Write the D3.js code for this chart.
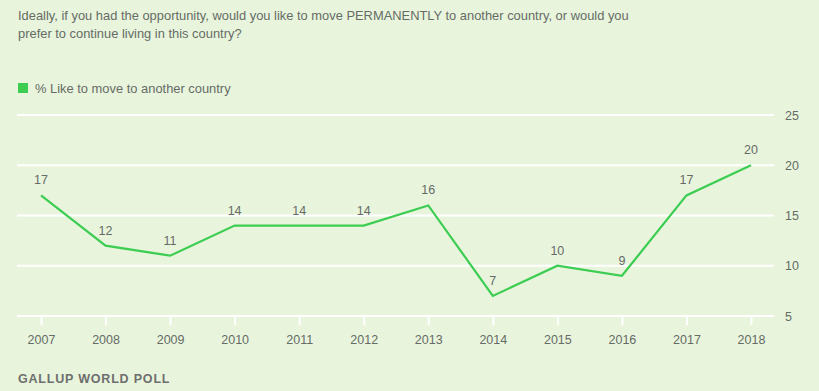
<!DOCTYPE html>
<html><head><meta charset="utf-8">
<script src="https://cdn.jsdelivr.net/npm/d3@7"></script>
<style>
html,body{margin:0;padding:0;background:#e8f5dc;}
svg{display:block;font-family:"Liberation Sans",Arial,sans-serif;}
</style></head><body>
<svg id="c" width="819" height="391"></svg>
<script>
const years = ["2007","2008","2009","2010","2011","2012","2013","2014","2015","2016","2017","2018"];
const values = [17,12,11,14,14,14,16,7,10,9,17,20];
const yTicks = [5,10,15,20,25];
const seriesName = "% Like to move to another country";
const titleLines = ["Ideally, if you had the opportunity, would you like to move PERMANENTLY to another country, or would you","prefer to continue living in this country?"];
const footer = "GALLUP WORLD POLL";

const svg = d3.select("#c");
const textColor = "#666b66";
const lineColor = "#3ccd52";

svg.append("rect").attr("width",819).attr("height",391).attr("fill","#e8f5dc");

svg.selectAll("text.title").data(titleLines).enter().append("text")
  .attr("x",18).attr("y",(d,i)=>19.5+i*18.5).attr("font-size",12.9).attr("fill",textColor).text(d=>d);

svg.append("rect").attr("x",18).attr("y",83).attr("width",10).attr("height",10).attr("fill",lineColor);
svg.append("text").attr("x",35).attr("y",92.5).attr("font-size",12.9).attr("fill",textColor).text(seriesName);

const x = d3.scalePoint().domain(years).range([41,751]);
const y = d3.scaleLinear().domain([5,25]).range([316,115]);

const g = svg.append("g");
g.selectAll("line.grid").data(yTicks).enter().append("line")
  .attr("x1",17).attr("x2",774).attr("y1",d=>y(d)).attr("y2",d=>y(d))
  .attr("stroke","#ffffff").attr("stroke-width",2);

// right axis labels
const yAxis = d3.axisRight(y).tickValues(yTicks).tickSize(0).tickPadding(0);
const ya = svg.append("g").attr("transform","translate(785,0)").call(yAxis);
ya.select(".domain").remove();
ya.selectAll("text").attr("font-size",12.5).attr("fill",textColor).attr("font-family","Liberation Sans, Arial, sans-serif");

// bottom axis
const xAxis = d3.axisBottom(x).tickSize(9).tickPadding(10);
const xa = svg.append("g").attr("transform",`translate(0,${y(5)})`).call(xAxis);
xa.select(".domain").remove();
xa.selectAll("line").attr("stroke","#ffffff").attr("stroke-width",2);
xa.selectAll("text").attr("font-size",12.5).attr("fill",textColor).attr("font-family","Liberation Sans, Arial, sans-serif");

const line = d3.line().x((d,i)=>x(years[i])).y(d=>y(d));
svg.append("path").datum(values).attr("d",line).attr("fill","none")
  .attr("stroke",lineColor).attr("stroke-width",2.2).attr("stroke-linejoin","miter");

svg.selectAll("text.lbl").data(values).enter().append("text")
  .attr("x",(d,i)=>x(years[i])).attr("y",d=>y(d)-11).attr("text-anchor","middle")
  .attr("font-size",12.5).attr("fill",textColor).text(d=>d);

svg.append("text").attr("x",18).attr("y",383).attr("font-size",12.5).attr("font-weight","bold")
  .attr("letter-spacing",0.8).attr("fill","#6e6e6e").text(footer);
</script>
</body></html>
